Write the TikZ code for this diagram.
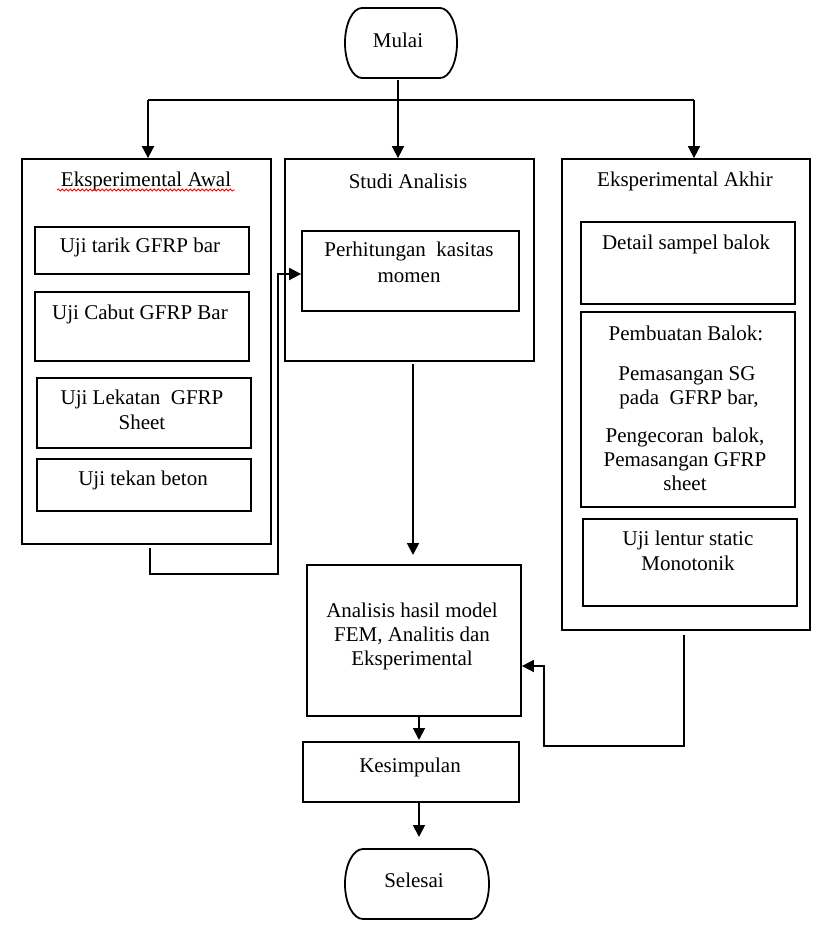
\documentclass[tikz,border=0pt]{standalone}
\usepackage{fontspec}
\setmainfont{Liberation Serif}
\usetikzlibrary{arrows.meta,decorations.pathmorphing,fit}
\begin{document}
\begin{tikzpicture}[x=1pt,y=-1pt,
  box/.style={draw, line width=1.8pt, inner sep=0pt},
  txt/.style={anchor=base, inner sep=0pt, font=\fontsize{21}{24}\selectfont},
  ln/.style={line width=1.8pt},
  arr/.style={line width=1.8pt, -{Triangle[length=12pt,width=12pt]}}]
\useasboundingbox (0,0) rectangle (822,937);
\fill[white] (0,0) rectangle (822,937);

% terminals
\node[minimum width=112pt, minimum height=70pt, inner sep=0pt] (mulai) at (401,43) {};
\draw[ln] (362,8) -- (440,8) arc[start angle=90,end angle=-90,x radius=17pt,y radius=35pt]
  -- (362,78) arc[start angle=270,end angle=90,x radius=17pt,y radius=35pt] -- cycle;
\node[txt] (tmulai) at (398,47) {Mulai};

\node[minimum width=144pt, minimum height=70pt, inner sep=0pt] (selesai) at (417,884) {};
\draw[ln] (363,849) -- (471,849) arc[start angle=90,end angle=-90,x radius=18pt,y radius=35pt]
  -- (363,919) arc[start angle=270,end angle=90,x radius=18pt,y radius=35pt] -- cycle;
\node[txt] (tselesai) at (414,887) {Selesai};

% left group
\node[box, fit={(22,159)(271,544)}] (awal) {};
\node[txt] (tawal) at (146,186) {Eksperimental Awal};
\draw[red, line width=0.8pt, decorate, decoration={snake, segment length=4pt, amplitude=1.1pt}] (57,190) -- (235,190);
\node[box, fit={(35,227)(249,274)}] (a1) {};
\node[txt] (ta1) at (140,252) {Uji tarik GFRP bar};
\node[box, fit={(35,292)(249,361)}] (a2) {};
\node[txt] (ta2) at (140,319) {Uji Cabut GFRP Bar};
\node[box, fit={(37,378)(251,448)}] (a3) {};
\node[txt] (ta3a) at (142,404) {Uji Lekatan\ \ GFRP};
\node[txt] (ta3b) at (142,429) {Sheet};
\node[box, fit={(37,459)(251,511)}] (a4) {};
\node[txt] (ta4) at (143,485) {Uji tekan beton};

% middle group
\node[box, fit={(285,159)(534,361)}] (studi) {};
\node[txt] (tstudi) at (408,188) {Studi Analisis};
\node[box, fit={(302,231)(519,311)}] (perh) {};
\node[txt] (tperha) at (409,256) {Perhitungan\ \ kasitas};
\node[txt] (tperhb) at (409,282) {momen};

% right group
\node[box, fit={(562,159)(810,630)}] (akhir) {};
\node[txt] (takhir) at (685,186) {Eksperimental Akhir};
\node[box, fit={(581,222)(795,304)}] (b1) {};
\node[txt] (tb1) at (686,249) {Detail sampel balok};
\node[box, fit={(581,312)(795,507)}] (b2) {};
\node[txt] (tb2a) at (686,340) {Pembuatan Balok:};
\node[txt] (tb2b) at (687,380) {Pemasangan SG};
\node[txt] (tb2c) at (689,404) {pada\ \ GFRP bar,};
\node[txt] (tb2d) at (685,442) {Pengecoran\ \,balok,};
\node[txt] (tb2e) at (685,466) {Pemasangan GFRP};
\node[txt] (tb2f) at (685,490) {sheet};
\node[box, fit={(583,519)(797,606)}] (b3) {};
\node[txt] (tb3a) at (688,545) {Uji lentur static};
\node[txt] (tb3b) at (688,570) {Monotonik};

% lower boxes
\node[box, fit={(307,565)(521,716)}] (anal) {};
\node[txt] (tanala) at (412,617) {Analisis hasil model};
\node[txt] (tanalb) at (412,641) {FEM, Analitis dan};
\node[txt] (tanalc) at (412,665) {Eksperimental};
\node[box, fit={(303,742)(519,802)}] (kes) {};
\node[txt] (tkes) at (410,772) {Kesimpulan};

% connectors
\coordinate (split) at (398,100);
\coordinate (ja) at (148,100);
\coordinate (jc) at (694,100);
\draw[arr] ([yshift=-2pt]mulai.south -| split) -- (studi.north -| split);
\draw[ln] (ja) -- (jc);
\draw[arr] (ja) -- (ja |- awal.north);
\draw[arr] (jc) -- (jc |- akhir.north);

\coordinate (l1) at (150,574);
\coordinate (l2) at (278,574);
\draw[arr] ([yshift=-3pt]awal.south -| l1) -- (l1) -- (l2) -- (278,274) -- (perh.west |- 278,274);

\coordinate (s1) at (413,555);
\draw[arr] ([yshift=-2pt]studi.south -| s1) -- (s1);

\coordinate (k1) at (419,740);
\draw[arr] (anal.south -| k1) -- (k1);
\coordinate (k2) at (419,837);
\draw[arr] (kes.south -| k2) -- (k2);

\coordinate (r1) at (684,746);
\coordinate (r2) at (544,746);
\coordinate (r3) at (544,666);
\draw[arr] ([yshift=-4pt]akhir.south -| r1) -- (r1) -- (r2) -- (r3) -- (anal.east |- r3);
\end{tikzpicture}
\end{document}
